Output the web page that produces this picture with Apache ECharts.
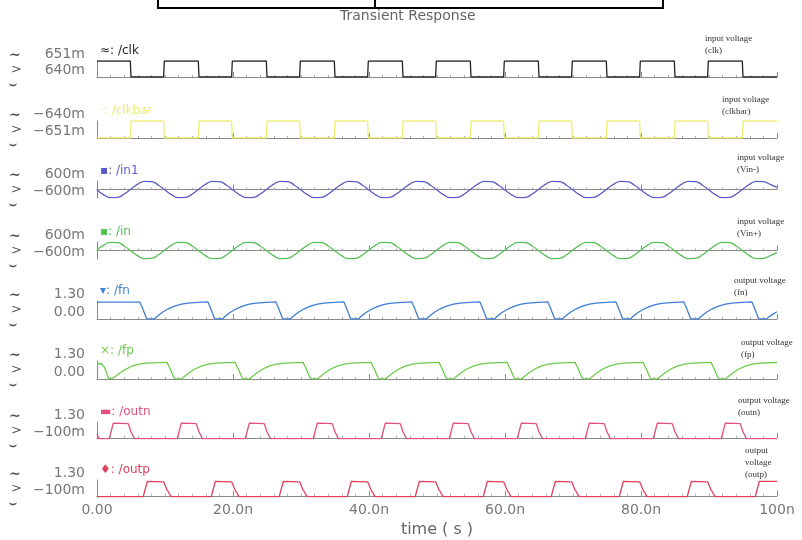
<!DOCTYPE html>
<html>
<head>
<meta charset="utf-8">
<script src="https://cdn.jsdelivr.net/npm/echarts@6/dist/echarts.min.js"></script>
<style>
html, body { margin: 0; padding: 0; background: #fff; }
#main { width: 802px; height: 540px; }
</style>
</head>
<body>
<div id="main"></div>
<script>
// time axis (ns)
var timeTicks = ['0.00', '20.0n', '40.0n', '60.0n', '80.0n', '100n'];

var traceNames = ['/clk', '/clkbar', '/in1', '/in', '/fn', '/fp', '/outn', '/outp'];
var traceMarks = ['\u2248', '\u00b7', '\u25aa', '\u25aa', '\u25be', '\u00d7', '\u25ac', '\u2666'];
var traceColors = ['#222222', '#ecec70', '#5b5bc8', '#55c055', '#3f7fd6', '#6ccc4a', '#e2507e', '#e0405c'];

var yLimits = [[0.640, 0.651], [-0.651, -0.640], [-0.6, 0.6], [-0.6, 0.6], [0, 1.3], [0, 1.3], [-0.1, 1.3], [-0.1, 1.3]];
var yTickLabels = [['640m', '651m'], ['\u2212651m', '\u2212640m'], ['\u2212600m', '600m'], ['\u2212600m', '600m'],
  ['0.00', '1.30'], ['0.00', '1.30'], ['\u2212100m', '1.30'], ['\u2212100m', '1.30']];

var notes = [['input voltage', '(clk)'], ['input voltage', '(clkbar)'], ['input voltage', '(Vin-)'], ['input voltage', '(Vin+)'],
  ['output voltage', '(fn)'], ['output voltage', '(fp)'], ['output voltage', '(outn)'], ['output', 'voltage', '(outp)']];

// square waves, [t(ns), V]
var clkWave = [[0,0.651],[4.9,0.651],[5.0,0.640],[9.8,0.640],[9.9,0.651],
  [14.9,0.651],[15.0,0.640],[19.8,0.640],[19.9,0.651],
  [24.9,0.651],[25.0,0.640],[29.8,0.640],[29.9,0.651],
  [34.9,0.651],[35.0,0.640],[39.8,0.640],[39.9,0.651],
  [44.9,0.651],[45.0,0.640],[49.8,0.640],[49.9,0.651],
  [54.9,0.651],[55.0,0.640],[59.8,0.640],[59.9,0.651],
  [64.9,0.651],[65.0,0.640],[69.8,0.640],[69.9,0.651],
  [74.9,0.651],[75.0,0.640],[79.8,0.640],[79.9,0.651],
  [84.9,0.651],[85.0,0.640],[89.8,0.640],[89.9,0.651],
  [94.9,0.651],[95.0,0.640],[100,0.640]];

var clkbarWave = [[0,-0.651],[4.9,-0.651],[5.0,-0.640],[9.8,-0.640],[9.9,-0.651],
  [14.9,-0.651],[15.0,-0.640],[19.8,-0.640],[19.9,-0.651],
  [24.9,-0.651],[25.0,-0.640],[29.8,-0.640],[29.9,-0.651],
  [34.9,-0.651],[35.0,-0.640],[39.8,-0.640],[39.9,-0.651],
  [44.9,-0.651],[45.0,-0.640],[49.8,-0.640],[49.9,-0.651],
  [54.9,-0.651],[55.0,-0.640],[59.8,-0.640],[59.9,-0.651],
  [64.9,-0.651],[65.0,-0.640],[69.8,-0.640],[69.9,-0.651],
  [74.9,-0.651],[75.0,-0.640],[79.8,-0.640],[79.9,-0.651],
  [84.9,-0.651],[85.0,-0.640],[89.8,-0.640],[89.9,-0.651],
  [94.9,-0.651],[95.0,-0.640],[100,-0.640]];

// differential inputs sampled every 1 ns
var in1Vals = [-0.04,-0.38,-0.58,-0.56,-0.32,0.04,0.38,0.58,0.56,0.32,
  -0.04,-0.38,-0.58,-0.56,-0.32,0.04,0.38,0.58,0.56,0.32,
  -0.04,-0.38,-0.58,-0.56,-0.32,0.04,0.38,0.58,0.56,0.32,
  -0.04,-0.38,-0.58,-0.56,-0.32,0.04,0.38,0.58,0.56,0.32,
  -0.04,-0.38,-0.58,-0.56,-0.32,0.04,0.38,0.58,0.56,0.32,
  -0.04,-0.38,-0.58,-0.56,-0.32,0.04,0.38,0.58,0.56,0.32,
  -0.04,-0.38,-0.58,-0.56,-0.32,0.04,0.38,0.58,0.56,0.32,
  -0.04,-0.38,-0.58,-0.56,-0.32,0.04,0.38,0.58,0.56,0.32,
  -0.04,-0.38,-0.58,-0.56,-0.32,0.04,0.38,0.58,0.56,0.32,
  -0.04,-0.38,-0.58,-0.56,-0.32,0.04,0.38,0.58,0.56,0.36,0.15];

var inVals = [0.04,0.38,0.58,0.56,0.32,-0.04,-0.38,-0.58,-0.56,-0.32,
  0.04,0.38,0.58,0.56,0.32,-0.04,-0.38,-0.58,-0.56,-0.32,
  0.04,0.38,0.58,0.56,0.32,-0.04,-0.38,-0.58,-0.56,-0.32,
  0.04,0.38,0.58,0.56,0.32,-0.04,-0.38,-0.58,-0.56,-0.32,
  0.04,0.38,0.58,0.56,0.32,-0.04,-0.38,-0.58,-0.56,-0.32,
  0.04,0.38,0.58,0.56,0.32,-0.04,-0.38,-0.58,-0.56,-0.32,
  0.04,0.38,0.58,0.56,0.32,-0.04,-0.38,-0.58,-0.56,-0.32,
  0.04,0.38,0.58,0.56,0.32,-0.04,-0.38,-0.58,-0.56,-0.32,
  0.04,0.38,0.58,0.56,0.32,-0.04,-0.38,-0.58,-0.56,-0.32,
  0.04,0.38,0.58,0.56,0.32,-0.04,-0.38,-0.58,-0.56,-0.36,-0.15];

var fnWave = [[0,1.22],[6.3,1.22],[6.6,0.9],[7.3,0.02],[8.4,0],
  [9.4,0.42],[10.4,0.72],[11.4,0.93],[12.4,1.07],[13.4,1.15],[14.9,1.2],[16.3,1.24],[16.6,0.9],[17.3,0.02],[18.4,0],
  [19.4,0.42],[20.4,0.72],[21.4,0.93],[22.4,1.07],[23.4,1.15],[24.9,1.2],[26.3,1.24],[26.6,0.9],[27.3,0.02],[28.4,0],
  [29.4,0.42],[30.4,0.72],[31.4,0.93],[32.4,1.07],[33.4,1.15],[34.9,1.2],[36.3,1.24],[36.6,0.9],[37.3,0.02],[38.4,0],
  [39.4,0.42],[40.4,0.72],[41.4,0.93],[42.4,1.07],[43.4,1.15],[44.9,1.2],[46.3,1.24],[46.6,0.9],[47.3,0.02],[48.4,0],
  [49.4,0.42],[50.4,0.72],[51.4,0.93],[52.4,1.07],[53.4,1.15],[54.9,1.2],[56.3,1.24],[56.6,0.9],[57.3,0.02],[58.4,0],
  [59.4,0.42],[60.4,0.72],[61.4,0.93],[62.4,1.07],[63.4,1.15],[64.9,1.2],[66.3,1.24],[66.6,0.9],[67.3,0.02],[68.4,0],
  [69.4,0.42],[70.4,0.72],[71.4,0.93],[72.4,1.07],[73.4,1.15],[74.9,1.2],[76.3,1.24],[76.6,0.9],[77.3,0.02],[78.4,0],
  [79.4,0.42],[80.4,0.72],[81.4,0.93],[82.4,1.07],[83.4,1.15],[84.9,1.2],[86.3,1.24],[86.6,0.9],[87.3,0.02],[88.4,0],
  [89.4,0.42],[90.4,0.72],[91.4,0.93],[92.4,1.07],[93.4,1.15],[94.9,1.2],[96.3,1.24],[96.6,0.9],[97.3,0.02],[98.4,0],
  [99.4,0.35],[100,0.52]];

var fpWave = [[0,1.1],[0.6,1.12],[1.1,0.85],[1.7,0.05],[2.2,0],
  [3.2,0.38],[4.2,0.7],[5.2,0.94],[6.2,1.08],[7.2,1.15],[10.3,1.2],[10.7,0.8],[11.4,0.02],[12.4,0],
  [13.4,0.4],[14.4,0.72],[15.4,0.95],[16.4,1.08],[17.4,1.15],[20.3,1.2],[20.7,0.8],[21.4,0.02],[22.4,0],
  [23.4,0.4],[24.4,0.72],[25.4,0.95],[26.4,1.08],[27.4,1.15],[30.3,1.2],[30.7,0.8],[31.4,0.02],[32.4,0],
  [33.4,0.4],[34.4,0.72],[35.4,0.95],[36.4,1.08],[37.4,1.15],[40.3,1.2],[40.7,0.8],[41.4,0.02],[42.4,0],
  [43.4,0.4],[44.4,0.72],[45.4,0.95],[46.4,1.08],[47.4,1.15],[50.3,1.2],[50.7,0.8],[51.4,0.02],[52.4,0],
  [53.4,0.4],[54.4,0.72],[55.4,0.95],[56.4,1.08],[57.4,1.15],[60.3,1.2],[60.7,0.8],[61.4,0.02],[62.4,0],
  [63.4,0.4],[64.4,0.72],[65.4,0.95],[66.4,1.08],[67.4,1.15],[70.3,1.2],[70.7,0.8],[71.4,0.02],[72.4,0],
  [73.4,0.4],[74.4,0.72],[75.4,0.95],[76.4,1.08],[77.4,1.15],[80.3,1.2],[80.7,0.8],[81.4,0.02],[82.4,0],
  [83.4,0.4],[84.4,0.72],[85.4,0.95],[86.4,1.08],[87.4,1.15],[90.3,1.2],[90.7,0.8],[91.4,0.02],[92.4,0],
  [93.4,0.4],[94.4,0.72],[95.4,0.95],[96.4,1.08],[97.4,1.15],[100,1.19]];

var outnWave = [[0,0.3],[0.3,-0.07],[1.8,-0.07],[2.4,1.2],[4.6,1.16],[5.0,0.5],[5.5,-0.07],
  [11.8,-0.07],[12.4,1.2],[14.6,1.16],[15.0,0.5],[15.5,-0.07],
  [21.8,-0.07],[22.4,1.2],[24.6,1.16],[25.0,0.5],[25.5,-0.07],
  [31.8,-0.07],[32.4,1.2],[34.6,1.16],[35.0,0.5],[35.5,-0.07],
  [41.8,-0.07],[42.4,1.2],[44.6,1.16],[45.0,0.5],[45.5,-0.07],
  [51.8,-0.07],[52.4,1.2],[54.6,1.16],[55.0,0.5],[55.5,-0.07],
  [61.8,-0.07],[62.4,1.2],[64.6,1.16],[65.0,0.5],[65.5,-0.07],
  [71.8,-0.07],[72.4,1.2],[74.6,1.16],[75.0,0.5],[75.5,-0.07],
  [81.8,-0.07],[82.4,1.2],[84.6,1.16],[85.0,0.5],[85.5,-0.07],
  [91.8,-0.07],[92.4,1.2],[94.6,1.16],[95.0,0.5],[95.5,-0.07],[100,-0.07]];

var outpWave = [[0,-0.07],[6.8,-0.07],[7.4,1.18],[9.8,1.15],[10.3,0.5],[10.9,-0.07],
  [16.8,-0.07],[17.4,1.18],[19.8,1.15],[20.3,0.5],[20.9,-0.07],
  [26.8,-0.07],[27.4,1.18],[29.8,1.15],[30.3,0.5],[30.9,-0.07],
  [36.8,-0.07],[37.4,1.18],[39.8,1.15],[40.3,0.5],[40.9,-0.07],
  [46.8,-0.07],[47.4,1.18],[49.8,1.15],[50.3,0.5],[50.9,-0.07],
  [56.8,-0.07],[57.4,1.18],[59.8,1.15],[60.3,0.5],[60.9,-0.07],
  [66.8,-0.07],[67.4,1.18],[69.8,1.15],[70.3,0.5],[70.9,-0.07],
  [76.8,-0.07],[77.4,1.18],[79.8,1.15],[80.3,0.5],[80.9,-0.07],
  [86.8,-0.07],[87.4,1.18],[89.8,1.15],[90.3,0.5],[90.9,-0.07],
  [96.8,-0.07],[97.4,1.18],[100,1.18]];

var waves = [clkWave, clkbarWave,
  in1Vals.map(function (v, i) { return [i, v]; }),
  inVals.map(function (v, i) { return [i, v]; }),
  fnWave, fpWave, outnWave, outpWave];

// panel layout
var panelTop = [61, 121, 181, 242, 301, 361, 422, 480];
var panelH = [16, 17, 17, 17, 18, 18, 17, 17];
var noteX = [705, 722, 737, 737, 734, 741, 738, 745];
var noteY = [33, 94, 152, 216, 275, 337, 395, 445];

var grids = [], xAxes = [], yAxes = [], series = [], graphics = [];
var axisGrey = '#8a8a8a';

function yLabelFor(k) {
  return function (v) {
    var lo = yLimits[k][0], hi = yLimits[k][1];
    if (Math.abs(v - lo) < 1e-6) return yTickLabels[k][0];
    if (Math.abs(v - hi) < 1e-6) return yTickLabels[k][1];
    return '';
  };
}

for (var i = 0; i < 8; i++) {
  var last = (i === 7);
  grids.push({ left: 97, right: 25, top: panelTop[i], height: panelH[i], containLabel: false, outerBoundsMode: 'none' });
  xAxes.push({
    gridIndex: i, type: 'value', min: 0, max: 100, interval: 20,
    axisLine: { show: true, lineStyle: { color: axisGrey, width: 1 } },
    axisTick: { show: true, inside: true, length: 5, lineStyle: { color: axisGrey } },
    minorTick: { show: true, splitNumber: 10, length: 2, lineStyle: { color: '#aaa' } },
    splitLine: { show: false },
    axisLabel: {
      show: last, margin: 6, color: '#777', fontFamily: 'DejaVu Sans', fontSize: 14,
      formatter: function (v) { return timeTicks[Math.round(v / 20)]; }
    },
    name: last ? 'time ( s )' : '', nameLocation: 'middle', nameGap: 25,
    nameTextStyle: { color: '#666', fontFamily: 'DejaVu Sans', fontSize: 16 }
  });
  yAxes.push({
    gridIndex: i, type: 'value', min: yLimits[i][0], max: yLimits[i][1],
    axisLine: { show: true, lineStyle: { color: axisGrey, width: 1 } },
    axisTick: { show: false, customValues: yLimits[i] },
    splitLine: { show: false },
    axisLabel: {
      show: true, customValues: yLimits[i], margin: 12, verticalAlign: 'bottom',
      showMinLabel: true, showMaxLabel: true,
      color: '#777', fontFamily: 'DejaVu Sans', fontSize: 14,
      formatter: yLabelFor(i)
    }
  });
  series.push({
    type: 'line', xAxisIndex: i, yAxisIndex: i, data: waves[i],
    showSymbol: false, smooth: (i === 2 || i === 3), animation: false,
    lineStyle: { color: traceColors[i], width: 1.3 }
  });

  // trace name above each strip
  graphics.push({ type: 'text', left: 100, top: panelTop[i] - 16,
    style: { text: traceMarks[i] + ': ' + traceNames[i], fill: traceColors[i], font: '12px "DejaVu Sans"' } });
  // bracket glyphs at the far left
  graphics.push({ type: 'text', left: 9, top: panelTop[i] - 13, style: { text: '~', fill: '#555', font: 'bold 14px "DejaVu Sans"' } });
  graphics.push({ type: 'text', left: 11, top: panelTop[i] + 2, style: { text: '>', fill: '#555', font: '13px "DejaVu Sans"' } });
  graphics.push({ type: 'text', left: 9, top: panelTop[i] + 18, style: { text: '\u2323', fill: '#555', font: 'bold 12px "DejaVu Sans"' } });
  // annotation on the right
  graphics.push({ type: 'text', left: noteX[i], top: noteY[i],
    style: { text: notes[i].join('\n'), fill: '#333', font: '9px "Liberation Serif"', lineHeight: 12 } });
}

// title and cropped table border at top
graphics.push({ type: 'text', left: 340, top: 9, style: { text: 'Transient Response', fill: '#666', font: '14px "DejaVu Sans"' } });
graphics.push({ type: 'polyline', shape: { points: [[158, 0], [158, 8], [663, 8], [663, 0]] }, style: { stroke: '#000', lineWidth: 2, fill: null } });
graphics.push({ type: 'line', shape: { x1: 375, y1: 0, x2: 375, y2: 8 }, style: { stroke: '#000', lineWidth: 2 } });

var chart = echarts.init(document.getElementById('main'));
chart.setOption({
  backgroundColor: '#fff',
  animation: false,
  grid: grids,
  xAxis: xAxes,
  yAxis: yAxes,
  series: series,
  graphic: graphics
});
</script>
</body>
</html>
